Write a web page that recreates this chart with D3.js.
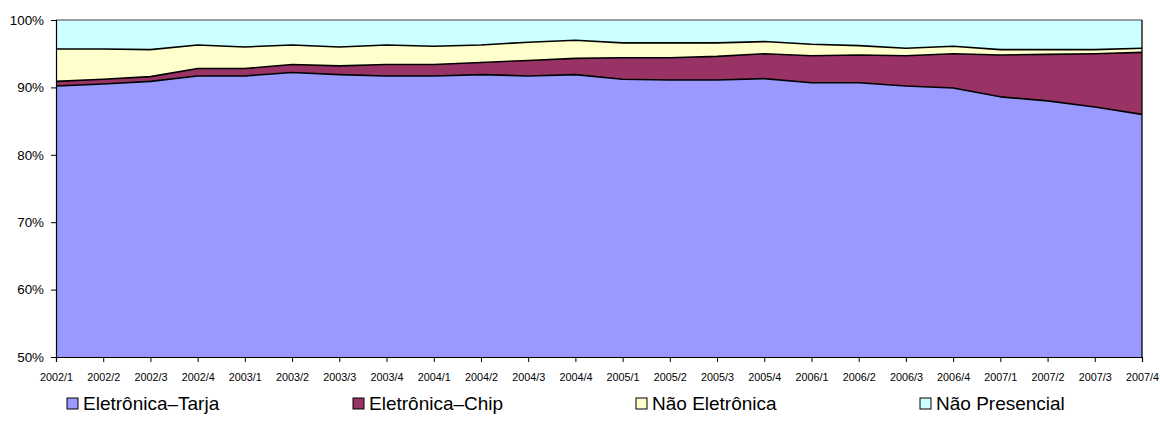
<!DOCTYPE html>
<html>
<head>
<meta charset="utf-8">
<script src="https://cdn.jsdelivr.net/npm/d3@7/dist/d3.min.js"></script>
<style>
  html, body { margin: 0; padding: 0; background: #fff; }
  svg { display: block; font-family: "Liberation Sans", Arial, sans-serif; }
</style>
</head>
<body>
<svg id="chart" width="1160" height="427"></svg>
<script>
// Quarters on the x axis
const quarters = [
  "2002/1","2002/2","2002/3","2002/4",
  "2003/1","2003/2","2003/3","2003/4",
  "2004/1","2004/2","2004/3","2004/4",
  "2005/1","2005/2","2005/3","2005/4",
  "2006/1","2006/2","2006/3","2006/4",
  "2007/1","2007/2","2007/3","2007/4"
];

// Share of each transaction type per quarter (%)
const eletronicaTarja = [90.2, 90.5, 90.9, 91.7, 91.7, 92.2, 91.9, 91.7, 91.7, 91.9, 91.7, 91.9,
                         91.2, 91.1, 91.1, 91.3, 90.7, 90.7, 90.2, 89.9, 88.6, 88.0, 87.1, 86.0];
const eletronicaChip  = [0.7, 0.7, 0.7, 1.1, 1.1, 1.2, 1.3, 1.7, 1.7, 1.8, 2.3, 2.4,
                         3.2, 3.3, 3.5, 3.7, 4.0, 4.1, 4.5, 5.1, 6.2, 6.9, 7.9, 9.2];
const naoEletronica   = [4.8, 4.5, 4.0, 3.5, 3.2, 2.9, 2.8, 2.9, 2.7, 2.6, 2.7, 2.7,
                         2.2, 2.2, 2.0, 1.8, 1.7, 1.4, 1.1, 1.1, 0.8, 0.7, 0.6, 0.6];
const naoPresencial   = [4.3, 4.3, 4.4, 3.7, 4.0, 3.7, 4.0, 3.7, 3.9, 3.7, 3.3, 3.0,
                         3.4, 3.4, 3.4, 3.2, 3.6, 3.8, 4.2, 3.9, 4.4, 4.4, 4.4, 4.2];

const seriesNames = ["Eletrônica–Tarja", "Eletrônica–Chip", "Não Eletrônica", "Não Presencial"];
const seriesColors = ["#9999FF", "#993366", "#FFFFCC", "#CCFFFF"];
const yTicks = [50, 60, 70, 80, 90, 100];

const rows = quarters.map((q, i) => ({
  q,
  [seriesNames[0]]: eletronicaTarja[i],
  [seriesNames[1]]: eletronicaChip[i],
  [seriesNames[2]]: naoEletronica[i],
  [seriesNames[3]]: naoPresencial[i]
}));

const svg = d3.select("#chart");
const plotLeft = 56, plotRight = 1142, plotTop = 20, plotBottom = 357;

const x = d3.scalePoint().domain(quarters).range([plotLeft, plotRight]);
const y = d3.scaleLinear().domain([50, 100]).range([plotBottom, plotTop]);

const stacked = d3.stack().keys(seriesNames)(rows);

const plot = svg.append("g");
plot.append("clipPath").attr("id", "clip")
  .append("rect").attr("x", plotLeft).attr("y", plotTop)
  .attr("width", plotRight - plotLeft).attr("height", plotBottom - plotTop);

const area = d3.area()
  .x(d => x(d.data.q))
  .y0(d => y(d[0]))
  .y1(d => y(d[1]));

plot.append("g").attr("clip-path", "url(#clip)")
  .selectAll("path.layer")
  .data(stacked)
  .join("path")
  .attr("class", "layer")
  .attr("fill", (d, i) => seriesColors[i])
  .attr("d", area);

// Boundary lines between the stacked layers
const topLine = d3.line()
  .x(d => x(d.data.q))
  .y(d => y(d[1]));

plot.append("g")
  .selectAll("path.edge")
  .data(stacked.slice(0, 3))
  .join("path")
  .attr("class", "edge")
  .attr("fill", "none")
  .attr("stroke", "#000")
  .attr("stroke-width", 1.6)
  .attr("stroke-linejoin", "round")
  .attr("d", topLine);

// Top border and right edge of the plot
plot.append("line")
  .attr("x1", plotLeft).attr("x2", plotRight).attr("y1", y(100)).attr("y2", y(100))
  .attr("stroke", "#404040").attr("stroke-width", 1.2);
plot.append("line")
  .attr("x1", plotRight).attr("x2", plotRight).attr("y1", y(100)).attr("y2", y(50))
  .attr("stroke", "#000").attr("stroke-width", 1.3);

// Y axis
const yAxis = d3.axisLeft(y)
  .tickValues(yTicks)
  .tickSize(5)
  .tickPadding(7)
  .tickFormat(d => d + "%");
const gy = svg.append("g").attr("transform", `translate(${plotLeft},0)`).call(yAxis);
gy.select(".domain").attr("stroke", "#000").attr("stroke-width", 1.2);
gy.selectAll(".tick line").attr("stroke", "#000");
gy.selectAll(".tick text")
  .attr("fill", "#000")
  .style("font-size", "13.4px")
  .style("font-family", "'Liberation Sans', Arial, sans-serif");

// X axis
const xAxis = d3.axisBottom(x).tickSize(5).tickPadding(11);
const gx = svg.append("g").attr("transform", `translate(0,${plotBottom})`).call(xAxis);
gx.select(".domain").attr("stroke", "#000").attr("stroke-width", 1.2);
gx.selectAll(".tick line").attr("stroke", "#000");
gx.selectAll(".tick text")
  .attr("fill", "#000")
  .style("font-size", "10.8px")
  .style("font-family", "'Liberation Sans', Arial, sans-serif");

// Legend
const legendX = [67, 353, 636, 920];
const legend = svg.append("g")
  .selectAll("g")
  .data(seriesNames)
  .join("g")
  .attr("transform", (d, i) => `translate(${legendX[i]},398)`);
legend.append("rect")
  .attr("width", 11).attr("height", 11)
  .attr("fill", (d, i) => seriesColors[i])
  .attr("stroke", "#000").attr("stroke-width", 1);
legend.append("text")
  .attr("x", 16).attr("y", 12)
  .attr("fill", "#000")
  .style("font-size", "19px")
  .text(d => d);
</script>
</body>
</html>
